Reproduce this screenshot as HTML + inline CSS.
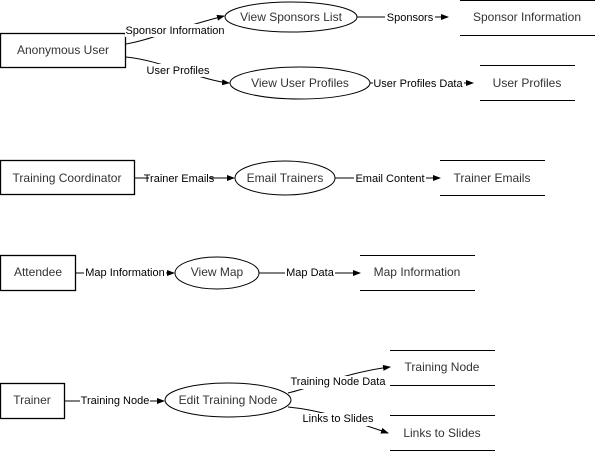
<!DOCTYPE html>
<html><head><meta charset="utf-8"><style>
html,body{margin:0;padding:0;background:#fff;}
svg{display:block;}
text{font-family:"Liberation Sans",Arial,sans-serif;fill:#333;}
.n{font-size:12px;text-anchor:middle;dominant-baseline:central;}
.l{font-size:11px;text-anchor:middle;dominant-baseline:central;fill:#000;}
</style></head><body>
<svg width="596" height="451" viewBox="0 0 596 451" xmlns="http://www.w3.org/2000/svg">
<defs><marker id="a" markerWidth="8" markerHeight="6" refX="7" refY="3" orient="auto" markerUnits="userSpaceOnUse"><path d="M0,0 L8,3 L0,6 Z" fill="#000"/></marker></defs>
<g stroke="#000" fill="none" stroke-width="1">
<rect x="0.5" y="33.5" width="125" height="34" stroke-width="1.3"/>
<ellipse cx="291" cy="17" rx="66" ry="15"/>
<line x1="460" y1="0.5" x2="595" y2="0.5"/><line x1="460" y1="35.5" x2="595" y2="35.5"/>
<ellipse cx="300" cy="83" rx="70" ry="16"/>
<line x1="480" y1="65.5" x2="575" y2="65.5"/><line x1="480" y1="100.5" x2="575" y2="100.5"/>

<rect x="0.5" y="160.5" width="134" height="34" stroke-width="1.3"/>
<ellipse cx="285" cy="178" rx="50" ry="17"/>
<line x1="440" y1="160.5" x2="545" y2="160.5"/><line x1="440" y1="195.5" x2="545" y2="195.5"/>

<rect x="0.5" y="255.5" width="75" height="35" stroke-width="1.3"/>
<ellipse cx="217" cy="273" rx="42" ry="16"/>
<line x1="360" y1="255.5" x2="475" y2="255.5"/><line x1="360" y1="290.5" x2="475" y2="290.5"/>

<rect x="0.5" y="383.5" width="64" height="35" stroke-width="1.3"/>
<ellipse cx="228" cy="400" rx="63" ry="17"/>
<line x1="390" y1="350.5" x2="495" y2="350.5"/><line x1="390" y1="385.5" x2="495" y2="385.5"/>
<line x1="390" y1="415.5" x2="495" y2="415.5"/><line x1="390" y1="450.5" x2="495" y2="450.5"/>

<path d="M126,44 C150,40 170,30 224,16" marker-end="url(#a)"/>
<path d="M126,57 C160,60 200,80 229,83" marker-end="url(#a)"/>
<path d="M357,17 L448,17" marker-end="url(#a)"/>
<path d="M370,83 L473,83" marker-end="url(#a)"/>
<path d="M135,178 L234,178" marker-end="url(#a)"/>
<path d="M335,178 L440,178" marker-end="url(#a)"/>
<path d="M76,273 L174,273" marker-end="url(#a)"/>
<path d="M259,273 L360,273" marker-end="url(#a)"/>
<path d="M65,401 L164,401" marker-end="url(#a)"/>
<path d="M288,393 C320,385 350,372 390,367" marker-end="url(#a)"/>
<path d="M288,407 C320,410 350,420 388,433" marker-end="url(#a)"/>
</g>
<g>
<rect x="125" y="24" width="100" height="13" fill="#fff"/><text class="l" x="175" y="31">Sponsor Information</text>
<rect x="146" y="64" width="64" height="13" fill="#fff"/><text class="l" x="178" y="71">User Profiles</text>
<rect x="385" y="11" width="50" height="13" fill="#fff"/><text class="l" x="410" y="18">Sponsors</text>
<rect x="373" y="77" width="91" height="13" fill="#fff"/><text class="l" x="418" y="84">User Profiles Data</text>
<rect x="149" y="172" width="60" height="13" fill="#fff"/><text class="l" x="179" y="179">Trainer Emails</text>
<rect x="354" y="172" width="72" height="13" fill="#fff"/><text class="l" x="390" y="179">Email Content</text>
<rect x="84" y="267" width="82" height="13" fill="#fff"/><text class="l" x="125" y="273">Map Information</text>
<rect x="285" y="267" width="50" height="13" fill="#fff"/><text class="l" x="310" y="273">Map Data</text>
<rect x="80" y="395" width="70" height="13" fill="#fff"/><text class="l" x="115" y="401">Training Node</text>
<rect x="290" y="376" width="96" height="13" fill="#fff"/><text class="l" x="338" y="382">Training Node Data</text>
<rect x="302" y="413" width="72" height="13" fill="#fff"/><text class="l" x="338" y="419">Links to Slides</text>

<text class="n" x="63" y="50">Anonymous User</text>
<text class="n" x="291" y="17">View Sponsors List</text>
<text class="n" x="527" y="17">Sponsor Information</text>
<text class="n" x="300" y="83">View User Profiles</text>
<text class="n" x="527" y="83">User Profiles</text>
<text class="n" x="67" y="178">Training Coordinator</text>
<text class="n" x="285" y="178">Email Trainers</text>
<text class="n" x="492" y="178">Trainer Emails</text>
<text class="n" x="38" y="272">Attendee</text>
<text class="n" x="217" y="272">View Map</text>
<text class="n" x="417" y="272">Map Information</text>
<text class="n" x="32" y="400">Trainer</text>
<text class="n" x="228" y="400">Edit Training Node</text>
<text class="n" x="442" y="367">Training Node</text>
<text class="n" x="442" y="433">Links to Slides</text>
</g>
</svg>
</body></html>
